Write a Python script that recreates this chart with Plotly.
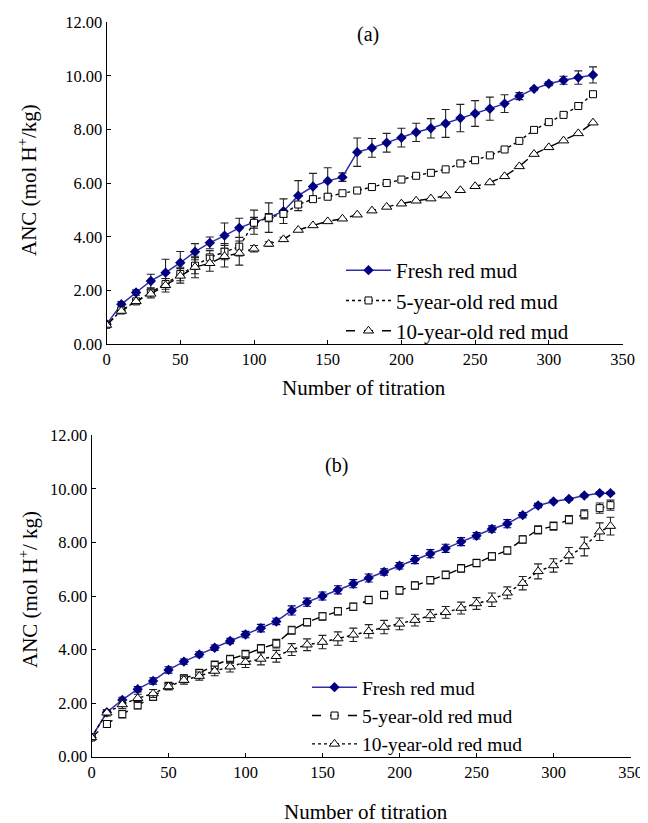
import plotly.graph_objects as go

# ---------------- Data: panel (a) ----------------
titration_a = [0, 10, 20, 30, 40, 50, 60, 70, 80, 90, 100, 110, 120, 130, 140, 150, 160, 170,
               180, 190, 200, 210, 220, 230, 240, 250, 260, 270, 280, 290, 300, 310, 320, 330]
fresh_a = [0.75, 1.49, 1.93, 2.36, 2.67, 3.04, 3.45, 3.78, 4.05, 4.34, 4.55, 4.72, 4.96, 5.54,
           5.88, 6.09, 6.23, 7.16, 7.32, 7.51, 7.70, 7.90, 8.05, 8.23, 8.43, 8.60, 8.78, 8.97,
           9.25, 9.52, 9.71, 9.84, 9.94, 10.04]
fresh_a_err = [0.05, 0.10, 0.10, 0.25, 0.50, 0.42, 0.30, 0.22, 0.47, 0.36, 0.45, 0.55, 0.46, 0.56,
               0.49, 0.49, 0.16, 0.53, 0.35, 0.35, 0.35, 0.34, 0.36, 0.52, 0.51, 0.48, 0.43, 0.33,
               0.13, 0.05, 0.07, 0.15, 0.25, 0.30]
five_a = [0.73, 1.26, 1.60, 1.94, 2.25, 2.62, 2.93, 3.24, 3.45, 3.64, 4.53, 4.72, 4.86, 5.21,
          5.41, 5.50, 5.63, 5.73, 5.86, 6.01, 6.14, 6.28, 6.39, 6.52, 6.74, 6.86, 7.04, 7.26,
          7.58, 7.99, 8.28, 8.55, 8.88, 9.32]
five_a_err = [0.0, 0.0, 0.05, 0.10, 0.20, 0.25, 0.30, 0.25, 0.30, 0.35, 0.20, 0.15, 0.12, 0.08,
              0.0, 0.0, 0.0, 0.0, 0.0, 0.0, 0.0, 0.0, 0.0, 0.0, 0.0, 0.0, 0.0, 0.0,
              0.0, 0.0, 0.0, 0.0, 0.0, 0.0]
ten_a = [0.72, 1.24, 1.60, 1.88, 2.20, 2.55, 2.88, 3.02, 3.28, 3.40, 3.56, 3.74, 3.91, 4.26,
         4.43, 4.58, 4.68, 4.83, 4.98, 5.12, 5.24, 5.35, 5.43, 5.54, 5.74, 5.89, 6.03, 6.26,
         6.63, 7.09, 7.34, 7.59, 7.86, 8.26]
ten_a_err = [0.0, 0.0, 0.05, 0.15, 0.25, 0.27, 0.40, 0.30, 0.40, 0.45, 0.12, 0.08, 0.08, 0.0,
             0.0, 0.0, 0.0, 0.0, 0.0, 0.0, 0.0, 0.0, 0.0, 0.0, 0.0, 0.0, 0.0, 0.0,
             0.0, 0.0, 0.0, 0.0, 0.0, 0.0]

# ---------------- Data: panel (b) ----------------
titration_b = [0, 10, 20, 30, 40, 50, 60, 70, 80, 90, 100, 110, 120, 130, 140, 150, 160, 170,
               180, 190, 200, 210, 220, 230, 240, 250, 260, 270, 280, 290, 300, 310, 320, 330, 337]
fresh_b = [0.72, 1.66, 2.12, 2.52, 2.83, 3.24, 3.55, 3.82, 4.07, 4.32, 4.56, 4.80, 5.05, 5.46,
           5.77, 6.00, 6.23, 6.46, 6.67, 6.90, 7.13, 7.36, 7.58, 7.78, 8.03, 8.25, 8.50, 8.70,
           9.02, 9.38, 9.53, 9.62, 9.75, 9.84, 9.84]
fresh_b_err = [0.05, 0.08, 0.10, 0.10, 0.12, 0.12, 0.10, 0.10, 0.10, 0.10, 0.12, 0.14, 0.12, 0.17,
               0.15, 0.15, 0.15, 0.15, 0.15, 0.12, 0.12, 0.15, 0.15, 0.15, 0.15, 0.12, 0.12, 0.15,
               0.10, 0.08, 0.05, 0.05, 0.05, 0.05, 0.05]
five_b = [0.72, 1.22, 1.59, 1.92, 2.24, 2.64, 2.92, 3.12, 3.42, 3.64, 3.82, 4.04, 4.22, 4.72,
          5.02, 5.24, 5.43, 5.60, 5.85, 6.04, 6.21, 6.39, 6.59, 6.79, 7.03, 7.23, 7.48, 7.70,
          8.11, 8.47, 8.61, 8.85, 9.05, 9.28, 9.39]
five_b_err = [0.10, 0.12, 0.14, 0.14, 0.14, 0.14, 0.14, 0.14, 0.15, 0.15, 0.15, 0.15, 0.16, 0.15,
              0.14, 0.14, 0.14, 0.14, 0.14, 0.14, 0.14, 0.14, 0.14, 0.14, 0.14, 0.14, 0.14, 0.14,
              0.14, 0.15, 0.15, 0.15, 0.17, 0.19, 0.19]
ten_b = [0.72, 1.64, 1.95, 2.18, 2.36, 2.62, 2.86, 3.01, 3.20, 3.36, 3.53, 3.65, 3.75, 4.00,
         4.18, 4.28, 4.41, 4.55, 4.68, 4.84, 4.96, 5.10, 5.27, 5.39, 5.55, 5.72, 5.86, 6.12,
         6.48, 6.92, 7.14, 7.51, 7.85, 8.40, 8.61]
ten_b_err = [0.08, 0.12, 0.15, 0.15, 0.15, 0.12, 0.15, 0.15, 0.18, 0.20, 0.20, 0.22, 0.22, 0.22,
             0.22, 0.25, 0.25, 0.25, 0.25, 0.25, 0.22, 0.22, 0.22, 0.22, 0.22, 0.22, 0.25, 0.22,
             0.25, 0.28, 0.25, 0.30, 0.35, 0.33, 0.33]

x_ticks = [0, 50, 100, 150, 200, 250, 300, 350]
y_ticks = [0, 2, 4, 6, 8, 10, 12]
series_names = ["Fresh red mud", "5-year-old red mud", "10-year-old red mud"]
panel_labels = ["(a)", "(b)"]
y_titles = ["ANC (mol H<sup>+</sup>/kg)", "ANC (mol H<sup>+</sup>/ kg)"]
x_title = "Number of titration"

FONT = "Liberation Serif, Times New Roman, serif"
NAVY = "#000080"
LINE_BLUE = "#2e2ea8"

fig = go.Figure()


def add_series(x, y, err, name, xa, ya, legend, kind, dash, err_color):
    if kind == "fresh":
        marker = dict(symbol="diamond", size=8, color=NAVY, line=dict(width=0))
        line = dict(color=LINE_BLUE, width=1.5, dash=dash)
    elif kind == "square":
        marker = dict(symbol="square", size=7, color="#ffffff", line=dict(width=1, color="#000000"))
        line = dict(color="#000000", width=1.4, dash=dash)
    else:
        marker = dict(symbol="triangle-up", size=9, color="#ffffff", line=dict(width=1, color="#000000"))
        line = dict(color="#000000", width=1.4, dash=dash)
    fig.add_trace(go.Scatter(
        x=x, y=y, name=name, mode="lines+markers", xaxis=xa, yaxis=ya,
        legend=legend, legendgroup=legend + name,
        marker=marker, line=line,
        error_y=dict(type="data", array=err, visible=True, color=err_color,
                     thickness=1.1, width=4),
    ))


# panel (a)
add_series(titration_a, fresh_a, fresh_a_err, series_names[0], "x", "y", "legend", "fresh", "solid", "#222222")
add_series(titration_a, five_a, five_a_err, series_names[1], "x", "y", "legend", "square", "dot", "#222222")
add_series(titration_a, ten_a, ten_a_err, series_names[2], "x", "y", "legend", "tri", "dash", "#222222")
# panel (b)
add_series(titration_b, fresh_b, fresh_b_err, series_names[0], "x2", "y2", "legend2", "fresh", "solid", NAVY)
add_series(titration_b, five_b, five_b_err, series_names[1], "x2", "y2", "legend2", "square", "dash", "#222222")
add_series(titration_b, ten_b, ten_b_err, series_names[2], "x2", "y2", "legend2", "tri", "dot", "#222222")

# the page body adds an 8 px offset; the figure is sized to fit the window
OFF = 8
W, H = 640, 815


def px_x(p):
    return (p - OFF) / W


def px_y(p):
    return 1 - (p - OFF) / H


axis_common = dict(
    showgrid=False, zeroline=False, showline=True, linecolor="#000000", linewidth=1,
    ticks="inside", ticklen=4, tickcolor="#000000", tickwidth=1, automargin=False,
    tickfont=dict(family=FONT, size=16.5, color="#000000"),
)

fig.update_layout(
    width=W, height=H,
    margin=dict(l=0, r=0, t=0, b=0, pad=0, autoexpand=False),
    paper_bgcolor="white", plot_bgcolor="white",
    showlegend=True,
    xaxis=dict(domain=[px_x(106.6), px_x(622.5)], range=[0, 350], tickvals=x_ticks,
               anchor="y", **axis_common),
    yaxis=dict(domain=[px_y(344.3), px_y(22.3)], range=[0, 12], tickvals=y_ticks,
               tickformat=".2f", anchor="x", **axis_common),
    xaxis2=dict(domain=[px_x(91.5), px_x(630.5)], range=[0, 350], tickvals=x_ticks,
                anchor="y2", **axis_common),
    yaxis2=dict(domain=[px_y(756.7), px_y(435.3)], range=[0, 12], tickvals=y_ticks,
                tickformat=".2f", anchor="x2", **axis_common),
    legend=dict(x=px_x(341), y=px_y(250), xanchor="left", yanchor="top",
                bgcolor="rgba(0,0,0,0)", font=dict(family=FONT, size=21, color="#000000"),
                traceorder="grouped", tracegroupgap=0, itemwidth=45),
    legend2=dict(x=px_x(307), y=px_y(668), xanchor="left", yanchor="top",
                 bgcolor="rgba(0,0,0,0)", font=dict(family=FONT, size=19.5, color="#000000"),
                 traceorder="grouped", tracegroupgap=0, itemwidth=45),
)

ann_font = dict(family=FONT, size=21, color="#000000")
ann_common = dict(xref="paper", yref="paper", showarrow=False, xanchor="center", yanchor="middle")
annotations = [
    dict(text=panel_labels[0], x=px_x(368), y=px_y(34),
         font=dict(family=FONT, size=20, color="#000000"), **ann_common),
    dict(text=panel_labels[1], x=px_x(336), y=px_y(465),
         font=dict(family=FONT, size=20, color="#000000"), **ann_common),
    dict(text=x_title, x=px_x(364), y=px_y(388), font=ann_font, **ann_common),
    dict(text=x_title, x=px_x(366), y=px_y(812), font=ann_font, **ann_common),
    dict(text=y_titles[0], x=px_x(27), y=px_y(180), textangle=-90, font=ann_font, **ann_common),
    dict(text=y_titles[1], x=px_x(28), y=px_y(590), textangle=-90, font=ann_font, **ann_common),
]
fig.update_layout(annotations=annotations)

fig.write_html("out.html")
